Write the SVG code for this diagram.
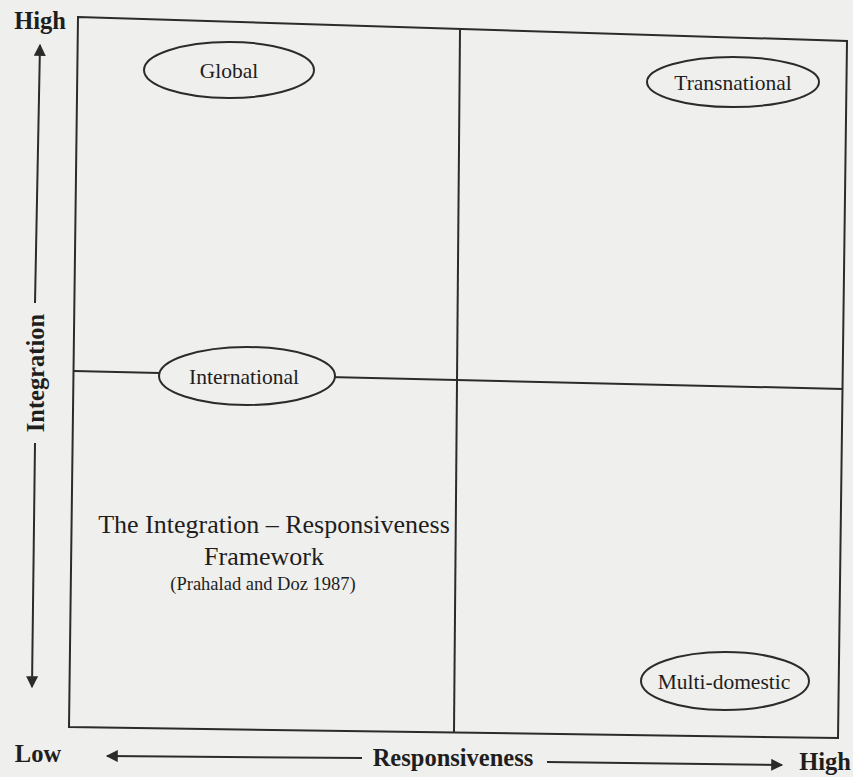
<svg xmlns="http://www.w3.org/2000/svg" width="853" height="777" viewBox="0 0 853 777">
  <defs>
    <style>
      .frame { fill: none; stroke: #2b2b2b; stroke-width: 2; stroke-linejoin: miter; }
      .axis { fill: none; stroke: #2b2b2b; stroke-width: 2; }
      .oval { fill: #efefed; stroke: #2b2b2b; stroke-width: 2; }
      .lbl { font-family: "Liberation Serif", "Times New Roman", serif; fill: #1e1e1e; text-anchor: middle; }
      .node-text { font-size: 21.5px; }
      .axis-text { font-weight: bold; font-size: 24.5px; }
    </style>
    <marker id="tip" viewBox="0 0 10 10" refX="9" refY="5" markerWidth="14" markerHeight="12" markerUnits="userSpaceOnUse" orient="auto">
      <path d="M0,0 L10,5 L0,10 Z" fill="#2b2b2b"/>
    </marker>
  </defs>

  <!-- paper -->
  <rect x="0" y="0" width="853" height="777" fill="#efefed"/>

  <!-- quadrant frame and dividers -->
  <g id="matrix">
    <polygon class="frame" points="78,17 847,41 838,738 69,727"/>
    <line class="frame" x1="460" y1="30" x2="454" y2="732"/>
    <line class="frame" x1="74" y1="371" x2="843" y2="389"/>
  </g>

  <!-- axes -->
  <g id="axes">
    <line class="axis" x1="35" y1="303" x2="40" y2="45" marker-end="url(#tip)"/>
    <line class="axis" x1="35" y1="443" x2="32" y2="687" marker-end="url(#tip)"/>
    <line class="axis" x1="362" y1="758" x2="107" y2="756" marker-end="url(#tip)"/>
    <line class="axis" x1="547" y1="762" x2="782" y2="765" marker-end="url(#tip)"/>
  </g>

  <g id="axis-labels">
    <text class="lbl axis-text" x="40" y="29">High</text>
    <text class="lbl axis-text" x="38" y="762">Low</text>
    <text class="lbl axis-text" x="453" y="766">Responsiveness</text>
    <text class="lbl axis-text" x="825" y="770">High</text>
    <text class="lbl axis-text" font-size="25.5" transform="translate(44,373) rotate(-90)">Integration</text>
  </g>

  <g id="global">
    <ellipse class="oval" cx="229" cy="70" rx="85" ry="28"/>
    <text class="lbl node-text" x="229" y="78">Global</text>
  </g>

  <g id="transnational">
    <ellipse class="oval" cx="733" cy="82" rx="86" ry="25"/>
    <text class="lbl node-text" x="733" y="90">Transnational</text>
  </g>

  <g id="international">
    <ellipse class="oval" cx="247" cy="376" rx="88" ry="29"/>
    <text class="lbl node-text" x="244" y="384">International</text>
  </g>

  <g id="multi-domestic">
    <ellipse class="oval" cx="725" cy="681" rx="84" ry="29"/>
    <text class="lbl node-text" x="724" y="689">Multi-domestic</text>
  </g>

  <g id="framework-title">
    <text class="lbl" x="274" y="533" font-size="26">The Integration – Responsiveness</text>
    <text class="lbl" x="264" y="565" font-size="26">Framework</text>
    <text class="lbl" x="263" y="590" font-size="18.5">(Prahalad and Doz 1987)</text>
  </g>
</svg>
